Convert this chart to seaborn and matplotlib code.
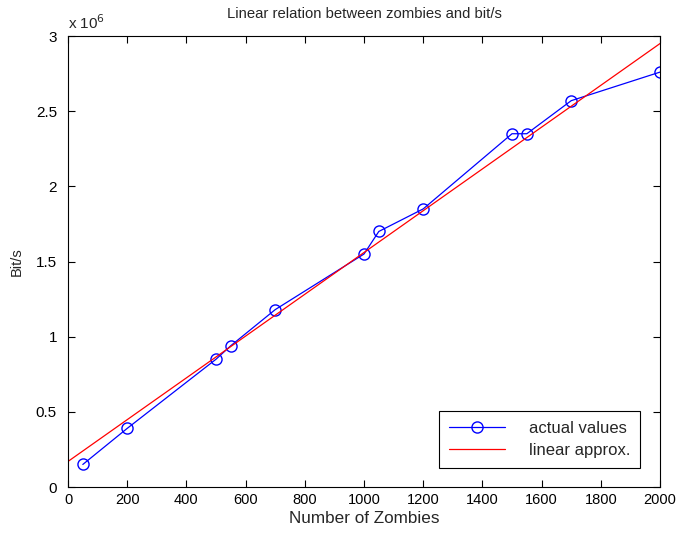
import matplotlib
matplotlib.use("Agg")
import matplotlib.pyplot as plt
import pandas as pd
import seaborn as sns
from matplotlib.ticker import FuncFormatter, MultipleLocator

# values
zombies = [50, 200, 500, 550, 700, 1000, 1050, 1200, 1500, 1550, 1700, 2000]
bits_per_s = [0.15e6, 0.39e6, 0.85e6, 0.94e6, 1.18e6, 1.55e6, 1.70e6,
              1.85e6, 2.35e6, 2.35e6, 2.57e6, 2.76e6]
fit_x = [0, 2000]
fit_y = [0.17e6, 2.95e6]

sns.set_style("ticks")
plt.rcParams.update({
    "font.family": ["Liberation Sans", "DejaVu Sans"],
    "font.size": 10,
    "xtick.direction": "in",
    "ytick.direction": "in",
    "xtick.top": True,
    "ytick.right": True,
    "axes.linewidth": 0.8,
    "axes.edgecolor": "black",
    "xtick.color": "black",
    "ytick.color": "black",
})

df = pd.DataFrame({"zombies": zombies, "bits": bits_per_s})
fit = pd.DataFrame({"x": fit_x, "y": fit_y})

fig = plt.figure(figsize=(6.78, 5.36), dpi=100)
ax = fig.add_axes([0.1003, 0.0914, 0.8732, 0.8414])

sns.lineplot(data=df, x="zombies", y="bits", ax=ax, color="#0000ff",
             marker="o", markersize=8, markerfacecolor="none",
             markeredgecolor="#0000ff", markeredgewidth=1.0, linewidth=0.9,
             label="actual values")
sns.lineplot(data=fit, x="x", y="y", ax=ax, color="#ff0000", linewidth=0.9,
             label="linear approx.")

ax.set_xlim(0, 2000)
ax.set_ylim(0, 3e6)
ax.xaxis.set_major_locator(MultipleLocator(200))
ax.yaxis.set_major_locator(MultipleLocator(0.5e6))
ax.yaxis.set_major_formatter(FuncFormatter(lambda v, _: f"{v / 1e6:g}"))
ax.tick_params(length=5, width=0.8)
ax.tick_params(axis="y", pad=8, labelsize=11)
ax.tick_params(axis="x", pad=4, labelsize=10.5)

ax.set_xlabel("Number of Zombies", fontsize=12.3, labelpad=3)
ax.set_ylabel("Bit/s", fontsize=10.5, labelpad=9)
ax.set_title("Linear relation between zombies and bit/s", fontsize=10.7, pad=13)
ax.text(0.0, 1.01, "x 10$^6$", transform=ax.transAxes, ha="left",
        va="bottom", fontsize=11)

leg = ax.legend(loc="lower right", bbox_to_anchor=(0.9662, 0.042),
                fancybox=False, shadow=False, framealpha=1,
                edgecolor="black", handlelength=3.4, handletextpad=1.4,
                borderpad=0.6, labelspacing=0.45, borderaxespad=0,
                fontsize=12)
leg.get_frame().set_linewidth(0.8)

fig.savefig("out.png", dpi=100)
